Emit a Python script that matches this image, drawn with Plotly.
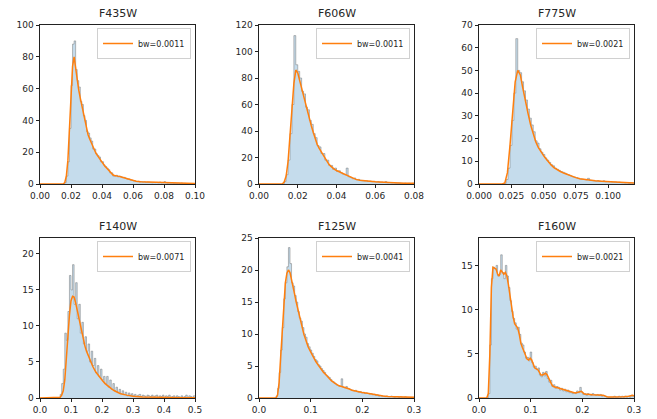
import numpy as np
import plotly.graph_objects as go

# ---------------- data ----------------
titles = ["F435W", "F606W", "F775W", "F140W", "F125W", "F160W"]
bw_labels = ["bw=0.0011", "bw=0.0011", "bw=0.0021", "bw=0.0071", "bw=0.0041", "bw=0.0021"]

# histogram: bin start, bin width, counts (density)
f435w_hist_start = 0.015
f435w_hist_width = 0.001
f435w_hist = [0, 1, 5, 14, 35, 62, 88, 90, 72, 65, 61, 52, 50, 43, 40, 33, 32, 29, 27, 22,
              22, 19, 18, 17, 14, 14, 12, 11, 10, 9, 7, 7, 5, 5, 5.5, 4.5, 5, 4.5, 4, 4.2,
              3.5, 3, 3.2, 2.5, 2.4, 2, 2, 1.6, 1.7, 1.3, 1.5, 1.2, 1.4, 1, 1.2, 1.1, 1, 0.8,
              1, 0.9, 1, 0.8, 1.2, 0.7, 0.9, 1.5, 0.8, 0.6, 0.8, 0.5, 0.7, 0.4, 0.6, 0.4, 0.5,
              0.3, 0.6, 0.3, 0.4, 0.2, 0.3, 0.3, 0.2, 0.3, 0.2]
f435w_kde_x = [0, 0.015, 0.016, 0.017, 0.018, 0.019, 0.020, 0.021, 0.022, 0.023, 0.024, 0.025,
               0.026, 0.027, 0.028, 0.029, 0.030, 0.031, 0.032, 0.033, 0.034, 0.035, 0.036,
               0.037, 0.038, 0.039, 0.040, 0.041, 0.042, 0.043, 0.044, 0.045, 0.046, 0.047,
               0.048, 0.049, 0.050, 0.051, 0.052, 0.053, 0.054, 0.055, 0.056, 0.057, 0.058,
               0.059, 0.060, 0.062, 0.065, 0.070, 0.075, 0.080, 0.085, 0.090, 0.095, 0.100]
f435w_kde_y = [0, 0, 1, 5, 15, 32, 55, 74, 80, 73, 64, 59, 54, 49, 44, 39, 34, 31, 28.5, 26,
               23.5, 21, 19.5, 18, 16.5, 15, 13.5, 12.2, 11, 10, 8.8, 7.5, 6.5, 5.8, 5.3, 5,
               4.9, 4.8, 4.6, 4.3, 4, 3.6, 3.2, 2.9, 2.6, 2.4, 2.2, 1.8, 1.4, 1.2, 1.0, 0.9,
               0.7, 0.5, 0.4, 0.3]

f606w_hist_start = 0.012
f606w_hist_width = 0.001
f606w_hist = [0, 2, 7, 18, 38, 60, 112, 90, 85, 80, 70, 68, 58, 56, 48, 45, 38, 35, 29, 28,
              23, 23, 18, 18, 14, 14, 11, 12, 9.5, 10, 8.5, 7.5, 7, 12, 5.5, 5, 4, 4.5, 3.2,
              3.5, 2.8, 2.5, 2.3, 2.5, 2, 2.2, 1.8, 2, 1.6, 1.8, 1.4, 1.5, 1.2, 1.8, 1, 1.1,
              0.9, 1, 0.8, 0.7, 0.8, 0.6, 0.5, 0.7, 0.5, 0.6, 0.4, 0.5]
f606w_kde_x = [0, 0.012, 0.013, 0.014, 0.015, 0.016, 0.017, 0.018, 0.019, 0.020, 0.021, 0.022,
               0.023, 0.024, 0.025, 0.026, 0.027, 0.028, 0.029, 0.030, 0.031, 0.032, 0.033,
               0.034, 0.035, 0.036, 0.037, 0.038, 0.039, 0.040, 0.041, 0.042, 0.043, 0.044,
               0.045, 0.046, 0.047, 0.048, 0.049, 0.050, 0.052, 0.054, 0.056, 0.058, 0.060,
               0.062, 0.064, 0.066, 0.068, 0.070, 0.072, 0.075, 0.080]
f606w_kde_y = [0, 0, 1.5, 6, 17, 35, 56, 76, 86, 84, 78, 72, 66, 60, 54, 49, 44, 39, 34, 30,
               27, 24.5, 22, 19.5, 17, 15, 13.5, 12, 11, 10.2, 9.5, 8.8, 8, 7.2, 6.5, 5.7, 5,
               4.5, 4, 3.5, 2.8, 2.4, 2.1, 1.9, 1.7, 1.5, 1.3, 1.1, 1.0, 0.8, 0.7, 0.6, 0.5]

f775w_hist_start = 0.018
f775w_hist_width = 0.0015
f775w_hist = [0, 0.3, 2, 7, 17, 28, 40, 64, 50, 49, 45, 41, 37, 33, 29, 26, 23, 19, 18, 15.5,
              14, 13, 11.5, 10.5, 9.5, 8.5, 8, 7, 6.5, 6, 5.5, 5.2, 4.8, 4.3, 4, 3.6, 3.2, 3,
              2.8, 2.5, 2.2, 2.1, 2, 1.8, 2.5, 1.6, 1.5, 1.4, 1.3, 1.5, 1.2, 1.1, 1.4, 1, 1.1,
              1, 0.9, 0.8, 0.9, 0.7, 0.8, 0.6, 0.6, 0.5, 0.6, 0.4, 0.5, 0.4]
f775w_kde_x = [0, 0.018, 0.020, 0.022, 0.024, 0.026, 0.028, 0.030, 0.032, 0.034, 0.036, 0.038,
               0.040, 0.042, 0.044, 0.046, 0.048, 0.050, 0.052, 0.054, 0.056, 0.058, 0.060,
               0.063, 0.066, 0.069, 0.072, 0.075, 0.078, 0.081, 0.084, 0.087, 0.090, 0.095,
               0.100, 0.105, 0.110, 0.115, 0.120]
f775w_kde_y = [0, 0, 0.5, 5, 17, 32, 45, 50, 48, 42, 36, 31, 26, 22, 18.5, 16, 14, 12.5, 11,
               9.5, 8.3, 7.2, 6.4, 5.5, 4.7, 4, 3.3, 2.8, 2.3, 2, 1.8, 1.6, 1.4, 1.2, 1.1, 0.9,
               0.7, 0.5, 0.4]

f140w_hist_start = 0.060
f140w_hist_width = 0.005
f140w_hist = [0, 0.5, 2, 4, 9, 8, 12, 17, 15, 18.5, 13, 16, 11, 13, 9, 10.5, 7.5, 8.5, 6.5,
              7.5, 5, 6.5, 4.5, 5.5, 3.5, 4.5, 3, 4, 2.5, 3, 2, 3, 1.5, 2.5, 1.2, 2, 1, 1.5,
              0.8, 1.2, 0.6, 1, 0.5, 0.8, 0.3, 0.7, 0.4, 0.6, 0.3, 0.5, 0.2, 0.4, 0.5, 0.2,
              0.4, 0.3, 0.1, 0.4, 0.3, 0.2, 0.4, 0.1, 0.3, 0.4, 0.1, 0.3, 0.2, 0.4, 0.1, 0.3,
              0.2, 0.4, 0.1, 0.2, 0.3, 0.1, 0.3, 0.2, 0.1, 0.3, 0.1, 0.2, 0.4, 0.1, 0.3, 0.2,
              0.1, 0.3]
f140w_kde_x = [0, 0.06, 0.065, 0.07, 0.075, 0.08, 0.085, 0.09, 0.095, 0.10, 0.105, 0.11,
               0.115, 0.12, 0.125, 0.13, 0.135, 0.14, 0.145, 0.15, 0.16, 0.17, 0.18, 0.19,
               0.20, 0.21, 0.22, 0.23, 0.24, 0.25, 0.26, 0.28, 0.30, 0.33, 0.36, 0.40, 0.45,
               0.50]
f140w_kde_y = [0, 0, 0.1, 0.4, 1, 2.5, 5, 8.5, 11.5, 13.5, 14.1, 14, 13.2, 12.2, 11, 9.9, 8.9,
               8, 7.2, 6.5, 5.3, 4.4, 3.6, 3, 2.5, 2, 1.6, 1.3, 1, 0.8, 0.6, 0.4, 0.25, 0.15,
               0.1, 0.07, 0.05, 0.03]

f125w_hist_start = 0.030
f125w_hist_width = 0.003
f125w_hist = [0, 0.3, 1.5, 4, 7.5, 11, 15.5, 18, 20.5, 23.5, 21, 18, 17.5, 16, 15, 13.5, 12.5,
              12, 11, 10, 9.5, 8.5, 8, 7.5, 7, 6.5, 6, 5.8, 5.2, 5, 4.6, 4.3, 4, 3.6, 3.4,
              3.2, 2.9, 2.6, 2.5, 2.2, 2, 1.9, 1.8, 3, 1.7, 1.6, 1.8, 1.5, 1.4, 1.3, 1.2, 1.1,
              1.2, 1, 0.9, 1, 0.8, 0.9, 0.7, 0.8, 0.7, 0.6, 0.7, 0.5, 0.6, 0.4, 0.5, 0.3, 0.4,
              0.3, 0.3, 0.2, 0.3, 0.2, 0.2, 0.3, 0.2, 0.1, 0.2, 0.2, 0.1, 0.2, 0.1, 0.1, 0.2,
              0.1, 0.1, 0.1, 0.1, 0.1]
f125w_kde_x = [0, 0.033, 0.036, 0.039, 0.042, 0.045, 0.048, 0.051, 0.054, 0.057, 0.060, 0.063,
               0.066, 0.069, 0.072, 0.075, 0.078, 0.081, 0.084, 0.087, 0.090, 0.095, 0.100,
               0.105, 0.110, 0.115, 0.120, 0.125, 0.130, 0.135, 0.140, 0.145, 0.150, 0.155,
               0.160, 0.165, 0.170, 0.175, 0.180, 0.185, 0.190, 0.195, 0.200, 0.210, 0.220,
               0.230, 0.240, 0.250, 0.260, 0.270, 0.280, 0.290, 0.300]
f125w_kde_y = [0, 0, 0.5, 2.5, 6.5, 11, 15.5, 18, 19.5, 20, 19.6, 18.6, 17.4, 16.2, 15, 13.9,
               12.8, 11.8, 10.8, 9.9, 9.2, 8, 7.2, 6.4, 5.7, 5.1, 4.5, 4, 3.6, 3.1, 2.7, 2.4,
               2.1, 1.9, 1.8, 1.7, 1.6, 1.4, 1.2, 1.1, 1.0, 0.9, 0.85, 0.75, 0.6, 0.4, 0.3,
               0.25, 0.2, 0.15, 0.12, 0.1, 0.1]

f160w_hist_start = 0.015
f160w_hist_width = 0.003
f160w_hist = [0, 0.5, 6, 13.5, 14.8, 14.6, 15, 13.8, 14, 16.2, 14.2, 13.5, 15, 13.8, 12.5, 11,
              9.8, 9, 8.5, 7.8, 8, 7.2, 6.2, 6, 5.2, 4.5, 4.6, 4.2, 5.2, 4, 3.5, 3.6, 3.2,
              3.4, 2.6, 2.4, 2.9, 2.5, 3, 2.2, 1.8, 2, 1.3, 1.5, 1.1, 1.3, 1.2, 0.9, 1.1, 0.8,
              1, 0.7, 0.9, 0.6, 0.7, 0.5, 0.6, 0.5, 0.8, 0.6, 1.2, 0.7, 0.4, 0.5, 0.3, 0.5,
              0.4, 0.3, 0.5, 0.4, 0.3, 0.4, 0.3, 0.4, 0.2, 0.3, 0.2, 0.1, 0.1, 0.1, 0.1, 0.1,
              0.2, 0.1, 0.1, 0.2, 0.1, 0.2, 0.1, 0.2, 0.1, 0.2, 0.1, 0.3, 0.2]
f160w_kde_x = [0, 0.015, 0.018, 0.021, 0.024, 0.027, 0.030, 0.033, 0.036, 0.039, 0.042, 0.045,
               0.048, 0.051, 0.054, 0.057, 0.060, 0.063, 0.066, 0.069, 0.072, 0.075, 0.078,
               0.081, 0.084, 0.087, 0.090, 0.093, 0.096, 0.099, 0.102, 0.105, 0.108, 0.111,
               0.114, 0.117, 0.120, 0.123, 0.126, 0.129, 0.132, 0.135, 0.138, 0.141, 0.144,
               0.150, 0.156, 0.162, 0.168, 0.174, 0.180, 0.186, 0.192, 0.198, 0.204, 0.210,
               0.220, 0.230, 0.240, 0.250, 0.260, 0.270, 0.280, 0.290, 0.297, 0.300]
f160w_kde_y = [0, 0, 0.5, 5, 12.5, 14.8, 14.7, 14.6, 14, 13.8, 14.5, 14.2, 14, 14.2, 13.8,
               12.8, 11.5, 10, 9.2, 8.4, 8.1, 7.9, 7.2, 6.2, 5.7, 5.3, 4.8, 4.4, 4.3, 4.5,
               4.3, 3.8, 3.4, 3.3, 3.2, 2.9, 2.6, 2.6, 2.7, 2.8, 2.6, 2.2, 1.9, 1.5, 1.3, 1.2,
               1.1, 1.0, 0.85, 0.75, 0.65, 0.57, 0.65, 0.75, 0.45, 0.4, 0.38, 0.35, 0.3, 0.1,
               0.1, 0.12, 0.15, 0.2, 0.3, 0.25]

# axis settings
x_ranges = [[0, 0.10], [0, 0.08], [0, 0.12], [0, 0.5], [0, 0.3], [0, 0.3]]
y_ranges = [[0, 100], [0, 120], [0, 70], [0, 22.2], [0, 25], [0, 18.1]]
x_ticks = [[0, 0.02, 0.04, 0.06, 0.08, 0.10], [0, 0.02, 0.04, 0.06, 0.08],
           [0, 0.025, 0.05, 0.075, 0.1], [0, 0.1, 0.2, 0.3, 0.4, 0.5],
           [0, 0.1, 0.2, 0.3], [0, 0.1, 0.2, 0.3]]
x_fmt = [".2f", ".2f", ".3f", ".1f", ".1f", ".1f"]
y_ticks = [[0, 20, 40, 60, 80, 100], [0, 20, 40, 60, 80, 100, 120],
           [0, 10, 20, 30, 40, 50, 60, 70], [0, 5, 10, 15, 20],
           [0, 5, 10, 15, 20, 25], [0, 5, 10, 15]]

hists = [
    (f435w_hist_start, f435w_hist_width, f435w_hist),
    (f606w_hist_start, f606w_hist_width, f606w_hist),
    (f775w_hist_start, f775w_hist_width, f775w_hist),
    (f140w_hist_start, f140w_hist_width, f140w_hist),
    (f125w_hist_start, f125w_hist_width, f125w_hist),
    (f160w_hist_start, f160w_hist_width, f160w_hist),
]
kdes = [
    (f435w_kde_x, f435w_kde_y), (f606w_kde_x, f606w_kde_y), (f775w_kde_x, f775w_kde_y),
    (f140w_kde_x, f140w_kde_y), (f125w_kde_x, f125w_kde_y), (f160w_kde_x, f160w_kde_y),
]

# ---------------- layout ----------------
W, H = 657, 419
col_px = [(40, 195), (259, 414), (479, 634)]
row_px = [(25, 184), (238, 398)]

FONT = "DejaVu Sans"
fig = go.Figure()
layout = dict(
    width=W, height=H, margin=dict(l=0, r=0, t=0, b=0, autoexpand=False),
    paper_bgcolor="white", plot_bgcolor="white",
    font=dict(family=FONT, size=9, color="#262626"),
    annotations=[],
)

for i in range(6):
    r, c = divmod(i, 3)
    x0, x1 = col_px[c]
    yt, yb = row_px[r]
    xd = [x0 / W, x1 / W]
    yd = [1 - yb / H, 1 - yt / H]
    sfx = "" if i == 0 else str(i + 1)
    xa, ya = "x" + sfx, "y" + sfx
    leg = "legend" + sfx

    start, width, counts = hists[i]
    edges = start + width * np.arange(len(counts) + 1)
    yy = list(counts) + [counts[-1]]
    fig.add_trace(go.Scatter(
        x=edges, y=yy, mode="lines", line=dict(shape="hv", color="rgba(120,120,120,0.5)", width=1),
        fill="tozeroy", fillcolor="rgba(31,119,180,0.26)", showlegend=False,
        xaxis=xa, yaxis=ya, hoverinfo="skip"))
    kx, ky = kdes[i]
    fig.add_trace(go.Scatter(
        x=kx, y=ky, mode="lines", line=dict(color="#ff7f0e", width=1.5),
        name=bw_labels[i], showlegend=True, legend=leg, xaxis=xa, yaxis=ya))

    axis_common = dict(showline=True, mirror=True, linecolor="#222222", linewidth=0.8,
                       ticks="outside", ticklen=3.5, tickwidth=0.8, tickcolor="#222222",
                       showgrid=False, zeroline=False, layer="below traces", automargin=False,
                       tickfont=dict(family=FONT, size=9, color="#262626"))
    layout["xaxis" + sfx] = dict(domain=xd, range=x_ranges[i], anchor=ya,
                                 tickvals=x_ticks[i], tickformat=x_fmt[i], **axis_common)
    layout["yaxis" + sfx] = dict(domain=yd, range=y_ranges[i], anchor=xa,
                                 tickvals=y_ticks[i], **axis_common)
    layout[leg] = dict(x=xd[1] - 4 / W, y=yd[1] - 3 / H, xanchor="right", yanchor="top",
                       bgcolor="rgba(255,255,255,0.85)", bordercolor="#d0d0d0", borderwidth=1,
                       font=dict(family=FONT, size=8, color="#262626"),
                       itemwidth=30, tracegroupgap=0)
    layout["annotations"].append(dict(
        text=titles[i], x=(xd[0] + xd[1]) / 2, y=yd[1], xref="paper", yref="paper",
        xanchor="center", yanchor="bottom", yshift=3, showarrow=False,
        font=dict(family=FONT, size=11, color="#262626")))

fig.update_layout(**layout)
fig.write_html("out.html", config={"displayModeBar": False},
               post_script="document.body.style.margin='0';")
